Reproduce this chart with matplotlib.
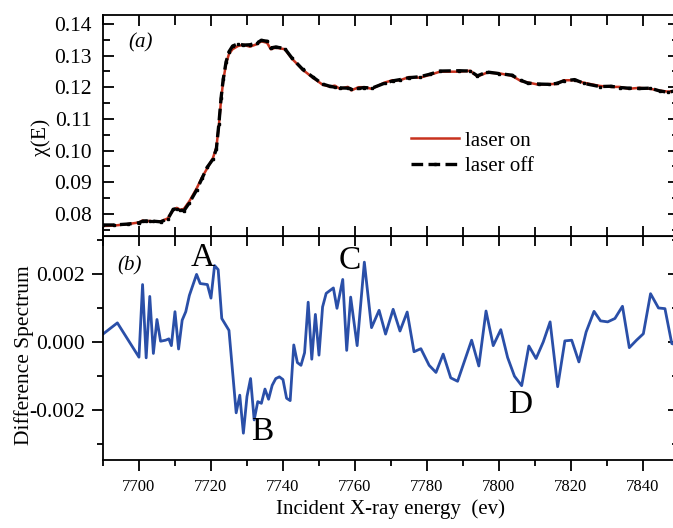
import matplotlib.pyplot as plt
from matplotlib.ticker import MultipleLocator

plt.rcParams['font.family'] = ['Liberation Serif', 'DejaVu Serif']
plt.rcParams['axes.unicode_minus'] = False

# (a) absorption spectra
energy_top = [7690, 7693, 7697, 7700, 7701, 7702, 7703, 7704, 7706, 7708,
              7709.5, 7710.5, 7711.5, 7712.5, 7714, 7716, 7717.5, 7719, 7720.5, 7721.5,
              7722.2, 7722.8, 7723.4, 7724.2, 7725, 7726, 7727.5, 7729, 7730.8, 7732.8,
              7734, 7735.6, 7736.6, 7738, 7740.5, 7742.5, 7745.5, 7748.3, 7751, 7753,
              7754.4, 7755.8, 7758, 7759, 7761, 7762.5, 7764.7, 7768.3, 7770.5, 7772.5,
              7775, 7778, 7780.8, 7783.6, 7789, 7792, 7794, 7796.7, 7800, 7803.6,
              7806, 7808, 7811, 7814, 7816, 7818, 7821, 7823.6, 7828, 7831,
              7833.5, 7836, 7839, 7842, 7844.7, 7847, 7850]
chi_on = [0.0762, 0.0763, 0.0768, 0.0773, 0.0779, 0.0776, 0.0778, 0.0775, 0.0776, 0.0786,
          0.0812, 0.0819, 0.0813, 0.0816, 0.0840, 0.0880, 0.0915, 0.0945, 0.0975, 0.1010,
          0.1080, 0.1160, 0.1220, 0.1275, 0.1305, 0.1320, 0.1330, 0.1334, 0.1328, 0.1336,
          0.1345, 0.1340, 0.1320, 0.1325, 0.1320, 0.1290, 0.1255, 0.1230, 0.1208, 0.1202,
          0.1205, 0.1195, 0.1201, 0.1190, 0.1200, 0.1200, 0.1195, 0.1215, 0.1222, 0.1222,
          0.1232, 0.1230, 0.1239, 0.1249, 0.1249, 0.1252, 0.1234, 0.1246, 0.1244, 0.1236,
          0.1220, 0.1215, 0.1208, 0.1210, 0.1210, 0.1222, 0.1222, 0.1214, 0.1204, 0.1201,
          0.1201, 0.1195, 0.1198, 0.1195, 0.1189, 0.1186, 0.1190]
chi_off = [0.0765, 0.0765, 0.0768, 0.0772, 0.0777, 0.0778, 0.0776, 0.0777, 0.0775, 0.0784,
           0.0814, 0.0817, 0.0812, 0.0810, 0.0835, 0.0875, 0.0912, 0.0948, 0.0972, 0.1005,
           0.1085, 0.1165, 0.1225, 0.1280, 0.1312, 0.1330, 0.1337, 0.1333, 0.1334, 0.1340,
           0.1348, 0.1345, 0.1324, 0.1327, 0.1322, 0.1292, 0.1256, 0.1232, 0.1210, 0.1203,
           0.1200, 0.1198, 0.1197, 0.1195, 0.1196, 0.1199, 0.1197, 0.1213, 0.1220, 0.1224,
           0.1230, 0.1233, 0.1241, 0.1251, 0.1252, 0.1251, 0.1236, 0.1248, 0.1243, 0.1238,
           0.1222, 0.1213, 0.1210, 0.1209, 0.1212, 0.1220, 0.1224, 0.1212, 0.1202, 0.1203,
           0.1199, 0.1197, 0.1196, 0.1197, 0.1188, 0.1184, 0.1191]

# (b) difference spectrum
energy_diff = [7690, 7694, 7700, 7701, 7702, 7703, 7704, 7705, 7706, 7707.4,
               7708.3, 7709, 7710, 7711, 7712, 7713, 7714, 7716, 7717, 7719,
               7720, 7721, 7722, 7723, 7725, 7727, 7728, 7729, 7730, 7731,
               7732, 7733, 7734, 7735, 7736, 7737, 7738, 7739, 7740, 7741,
               7742, 7743, 7744, 7745, 7746, 7747, 7748, 7749, 7750, 7751,
               7752, 7754, 7755, 7756.6, 7757.7, 7758.8, 7760.6, 7762.6, 7764.6, 7766.7,
               7768.5, 7770.6, 7772.5, 7774.5, 7776.4, 7778.3, 7780.6, 7782.5, 7784.5, 7786.6,
               7788.5, 7792.4, 7794.4, 7796.4, 7798.4, 7800.5, 7802.4, 7804.3, 7806.3, 7808.3,
               7810.3, 7812.3, 7814.2, 7816.3, 7818.3, 7820.2, 7822.2, 7824.2, 7826.4, 7828.2,
               7830.2, 7832.2, 7834.3, 7836.2, 7838.2, 7840.1, 7842.1, 7844.3, 7846.1, 7848,
               7850]
diff = [0.00024, 0.00057, -0.00044, 0.00170, -0.00046, 0.00135, -0.00033, 0.00067, 0.00003, 0.00006,
        0.00010, -0.00010, 0.00090, -0.00020, 0.00065, 0.00090, 0.00138, 0.00200, 0.00173, 0.00170,
        0.00130, 0.00226, 0.00214, 0.00070, 0.00035, -0.00208, -0.00156, -0.00268, -0.00160, -0.00107,
        -0.00229, -0.00175, -0.00180, -0.00138, -0.00168, -0.00127, -0.00107, -0.00102, -0.00110, -0.00165,
        -0.00172, -0.00008, -0.00060, -0.00068, -0.00031, 0.00118, -0.00050, 0.00082, -0.00038, 0.00104,
        0.00144, 0.00160, 0.00100, 0.00185, -0.00024, 0.00133, -0.00010, 0.00236, 0.00043, 0.00094,
        0.00024, 0.00097, 0.00033, 0.00089, -0.00028, -0.00019, -0.00068, -0.00089, -0.00035, -0.00105,
        -0.00115, 0.00006, -0.00070, 0.00092, -0.00010, 0.00037, -0.00045, -0.00100, -0.00128, -0.00011,
        -0.00048, 0.00001, 0.00060, -0.00131, 0.00004, 0.00006, -0.00058, 0.00030, 0.00091, 0.00063,
        0.00060, 0.00070, 0.00106, -0.00016, 0.00006, 0.00025, 0.00143, 0.00101, 0.00099, -0.00004,
        -0.00010]

peak_labels = ['A', 'B', 'C', 'D']
peak_x = [7717.8, 7734.2, 7758.6, 7805.8]
peak_y = [0.0025, -0.00265, 0.0024, -0.00185]

fig = plt.figure(figsize=(6.73, 5.28), dpi=100)
ax1 = fig.add_axes([0.1530, 0.5511, 0.8559, 0.4205])
ax2 = fig.add_axes([0.1530, 0.1288, 0.8559, 0.4242])

for ax in (ax1, ax2):
    for s in ax.spines.values():
        s.set_linewidth(1.3)
    ax.set_xlim(7690, 7850)
    ax.xaxis.set_major_locator(MultipleLocator(20))
    ax.xaxis.set_minor_locator(MultipleLocator(10))

# top panel
ax1.plot(energy_top, chi_on, color='#c8321e', lw=1.8, label='laser on', zorder=2)
ax1.plot(energy_top, chi_off, color='black', lw=2.4, ls=(0, (3.5, 1.6)),
         marker='s', markersize=1.5, label='laser off', zorder=3)
ax1.set_ylim(0.0727, 0.1428)
ax1.yaxis.set_major_locator(MultipleLocator(0.01))
ax1.yaxis.set_minor_locator(MultipleLocator(0.005))
ax1.yaxis.set_major_formatter(plt.FormatStrFormatter('%.2f'))
ax1.tick_params(which='both', direction='in', top=True, right=True, labelbottom=False,
                width=1.3, labelsize=15.5, pad=8)
ax1.tick_params(which='major', length=8)
ax1.tick_params(which='minor', length=5)
ax1.tick_params(axis='x', which='minor', length=7)
ax1.set_ylabel('χ(E)', fontsize=15.5)
ax1.yaxis.set_label_coords(-0.09, 0.45)
ax1.text(7700.3, 0.1340, '(a)', fontsize=15, fontstyle='italic', ha='center', va='center')
ax1.legend(loc='center left', bbox_to_anchor=(0.535, 0.375), frameon=False, fontsize=15,
           handlelength=2.3, handletextpad=0.3, labelspacing=0.3, borderpad=0, borderaxespad=0)

# bottom panel
ax2.plot(energy_diff, diff, color='#2a4fa8', lw=2)
ax2.set_ylim(-0.00347, 0.00313)
ax2.yaxis.set_major_locator(MultipleLocator(0.002))
ax2.yaxis.set_minor_locator(MultipleLocator(0.001))
ax2.yaxis.set_major_formatter(plt.FormatStrFormatter('%.3f'))
ax2.tick_params(which='both', direction='out', width=1.3, pad=5)
ax2.tick_params(which='major', length=8)
ax2.tick_params(which='minor', length=4)
ax2.tick_params(axis='y', labelsize=15.5)
ax2.tick_params(axis='x', labelsize=12, pad=6)
sx = ax2.secondary_xaxis('top')
sx.xaxis.set_major_locator(MultipleLocator(20))
sx.xaxis.set_minor_locator(MultipleLocator(10))
sx.tick_params(which='both', direction='in', labeltop=False, width=1.3, length=7)
sy = ax2.secondary_yaxis('right')
sy.yaxis.set_major_locator(MultipleLocator(0.002))
sy.yaxis.set_minor_locator(MultipleLocator(0.001))
sy.tick_params(which='both', direction='in', labelright=False, width=1.3)
sy.tick_params(which='major', length=8)
sy.tick_params(which='minor', length=5)
ax2.set_ylabel('Difference Spectrum', fontsize=15.5)
ax2.yaxis.set_label_coords(-0.12, 0.47)
ax2.set_xlabel('Incident X-ray energy  (ev)', fontsize=15)
ax2.xaxis.set_label_coords(0.5, -0.175)
ax2.text(7697.5, 0.00226, '(b)', fontsize=15, fontstyle='italic', ha='center', va='center')
for lab, px, py in zip(peak_labels, peak_x, peak_y):
    ax2.text(px, py, lab, fontsize=24, ha='center', va='center')

fig.savefig('out.png', dpi=100)
